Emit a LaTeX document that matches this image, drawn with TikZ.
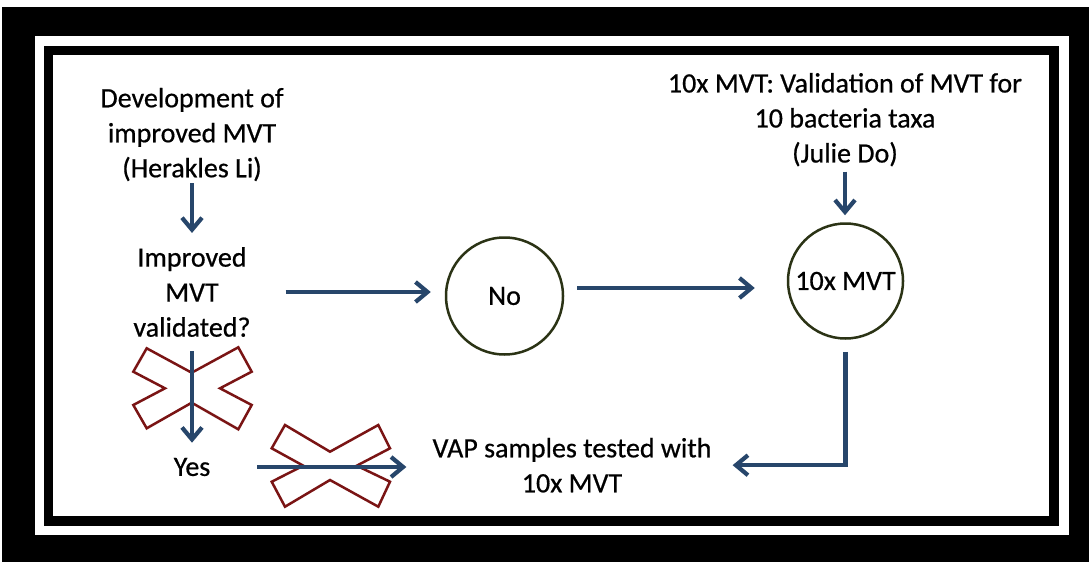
\documentclass[tikz,border=0pt]{standalone}
\usepackage{fontspec}
\setmainfont{Carlito}[FakeBold=0.6]
\newfontfamily\txtfont{Carlito}[FakeBold=0.6]
\usetikzlibrary{arrows.meta,calc}
\definecolor{arrowblue}{HTML}{27466B}
\definecolor{xred}{HTML}{7A1414}
\definecolor{circline}{HTML}{2B3315}
\begin{document}
\begin{tikzpicture}[x=1pt,y=-1pt,
  txt/.style={align=center, inner sep=0pt, font=\txtfont\fontsize{28}{35}\selectfont},
  arr/.style={draw=arrowblue, line width=4.2pt, -{Straight Barb[length=12pt,width=20pt]}},
  circ/.style={circle, draw=circline, line width=2.5pt, inner sep=0pt, font=\txtfont\fontsize{28}{35}\selectfont},
  xmark/.style={draw=xred, fill=white, line width=2.5pt, line join=miter}]
\useasboundingbox (0,0) rectangle (1089,562);
\fill[white] (0,0) rectangle (1089,562);
\fill[black] (2,7) rectangle (1089,562);
\fill[white] (35,36) rectangle (1069,535);
\fill[black] (44,46) rectangle (1059,526);
\fill[white] (53,55) rectangle (1049,516);

\node[txt] (dev) at (192,134.5) {Development of\\improved MVT\\(Herakles Li)};
\node[txt] (imp) at (192,292) {Improved\\MVT\\validated?};
\node[circ, minimum size=117pt] (no) at (504.5,296) {No};
\node[circ, minimum size=115pt] (mvt) at (845.5,281) {\raisebox{-2pt}{10x MVT}};
\node[txt] (val) at (845,119.7) {10x MVT: Validation of MVT for\\10 bacteria taxa\\(Julie Do)};
\node[txt] (yes) at (192,467) {Yes};
\node[txt] (vap) at (572,465.2) {VAP samples tested with\\10x MVT};

% cross marks
\draw[xmark] (146.7,348.3) -- (191.7,372.7) -- (238.3,347.3) -- (251.7,371.7) -- (220,388.3) -- (251.7,405) -- (238.3,429.3) -- (191.7,402.7) -- (146.7,428.3) -- (133.3,405) -- (165,388.3) -- (133.3,371.7) -- cycle;
\draw[xmark] (285,425) -- (330,451.7) -- (378.3,425) -- (390,448.3) -- (356.7,465.7) -- (390,481.7) -- (378.3,506.7) -- (330,480) -- (285,506.7) -- (271.7,481.7) -- (303.3,465.7) -- (271.7,448.3) -- cycle;

% connectors
\draw[arr, shorten <=2pt, shorten >=14pt] (dev) -- (imp);
\draw[arr, shorten <=14pt, shorten >=15pt] (imp) -- (yes);
\draw[arr, shorten <=35pt, shorten >=14pt] (imp.east) -- (imp.east -| no.west);
\path ([yshift=8pt]no.east) coordinate (noE);
\draw[arr, shorten <=13pt, shorten >=32pt] (noE) -- (noE -| mvt.west);
\draw[arr, shorten <=5pt, shorten >=7pt] (val.south) -- (val.south |- mvt.north);
\draw[arr, shorten <=12pt, shorten >=21pt] (mvt.south) -- (mvt.south |- vap.east) -- (vap.east);
\draw[arr, shorten <=47pt, shorten >=26pt] (yes.east) -- (yes.east -| vap.west);
\end{tikzpicture}
\end{document}
